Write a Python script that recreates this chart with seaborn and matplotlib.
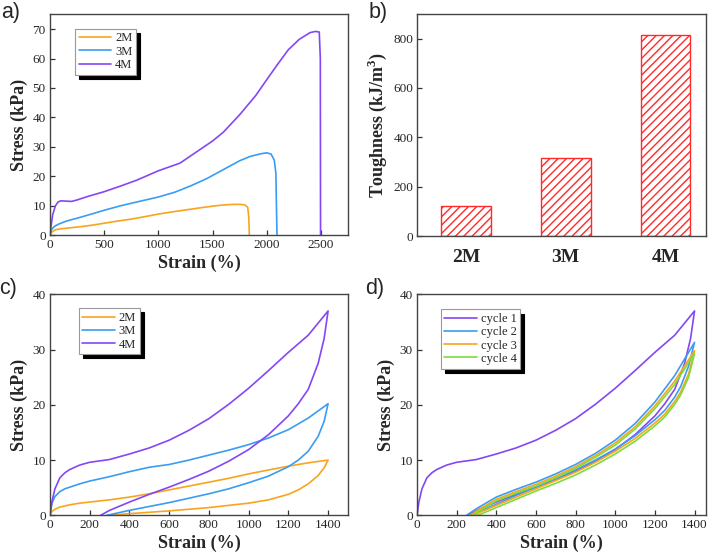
import numpy as np
import pandas as pd
import seaborn as sns
import matplotlib.pyplot as plt

# ---- a) tensile curves
a_2m_strain = [0, 20, 50, 100, 200, 300, 400, 500, 600, 750, 900, 1000, 1100, 1250, 1400, 1500, 1600, 1700, 1760, 1800, 1825, 1835, 1840]
a_2m_stress = [0, 1.2, 1.9, 2.2, 2.6, 3.0, 3.5, 4.1, 4.7, 5.5, 6.5, 7.2, 7.8, 8.6, 9.4, 9.9, 10.3, 10.5, 10.5, 10.3, 9.5, 6.0, 0]
a_3m_strain = [0, 15, 40, 80, 150, 250, 400, 500, 650, 800, 1000, 1150, 1300, 1450, 1600, 1750, 1850, 1950, 2000, 2040, 2070, 2085, 2090, 2095]
a_3m_stress = [0, 2.0, 3.0, 3.8, 4.8, 5.8, 7.4, 8.5, 10.0, 11.3, 13.0, 14.6, 16.8, 19.3, 22.3, 25.3, 26.8, 27.7, 28.0, 27.6, 25.5, 21.0, 10.0, 0]
a_4m_strain = [0, 10, 25, 50, 75, 100, 150, 200, 250, 350, 500, 650, 800, 1000, 1100, 1200, 1300, 1400, 1500, 1600, 1750, 1900, 2000, 2100, 2200, 2300, 2400, 2450, 2485, 2495, 2497]
a_4m_stress = [0, 3.0, 7.0, 10.0, 11.3, 11.7, 11.6, 11.5, 12.0, 13.2, 14.8, 16.7, 18.7, 21.9, 23.2, 24.5, 27.0, 29.5, 32.0, 35.0, 40.9, 47.5, 52.8, 58.0, 63.0, 66.5, 68.8, 69.2, 69.0, 60.0, 0]

# ---- b) toughness
samples = ["2M", "3M", "4M"]
toughness = [120, 315, 815]

# ---- c) loading / unloading cycles
c_4m_load_x = [0, 10, 25, 50, 75, 100, 150, 200, 300, 400, 500, 600, 700, 800, 900, 1000, 1100, 1200, 1300, 1400]
c_4m_load_y = [0, 2.5, 4.8, 6.8, 7.7, 8.3, 9.1, 9.6, 10.1, 11.1, 12.2, 13.6, 15.4, 17.5, 20.1, 23.0, 26.2, 29.5, 32.6, 37.0]
c_4m_unload_x = [1400, 1380, 1350, 1300, 1250, 1200, 1100, 1000, 900, 800, 700, 600, 500, 400, 300, 255]
c_4m_unload_y = [37.0, 32.0, 27.5, 22.8, 20.2, 18.0, 14.6, 11.9, 9.8, 8.0, 6.5, 5.1, 3.8, 2.4, 0.9, 0]
c_3m_load_x = [0, 10, 25, 50, 75, 100, 150, 200, 300, 400, 500, 600, 700, 800, 900, 1000, 1100, 1200, 1300, 1400]
c_3m_load_y = [0, 2.2, 3.4, 4.3, 4.8, 5.1, 5.7, 6.2, 7.0, 7.9, 8.7, 9.2, 10.0, 10.9, 11.8, 12.8, 14.0, 15.5, 17.6, 20.2]
c_3m_unload_x = [1400, 1380, 1350, 1300, 1250, 1200, 1100, 1000, 900, 800, 700, 600, 500, 400, 350, 300, 285]
c_3m_unload_y = [20.2, 17.0, 14.3, 11.6, 10.0, 8.8, 7.1, 5.9, 4.8, 3.9, 3.1, 2.3, 1.6, 0.9, 0.5, 0.1, 0]
c_2m_load_x = [0, 10, 25, 50, 100, 150, 200, 300, 400, 500, 600, 700, 800, 900, 1000, 1100, 1200, 1300, 1400]
c_2m_load_y = [0, 0.7, 1.1, 1.5, 1.9, 2.2, 2.4, 2.8, 3.3, 3.9, 4.6, 5.3, 6.0, 6.7, 7.5, 8.2, 8.9, 9.5, 10.0]
c_2m_unload_x = [1400, 1380, 1350, 1300, 1250, 1200, 1100, 1000, 900, 800, 700, 600, 500, 400, 300]
c_2m_unload_y = [10.0, 8.6, 7.2, 5.7, 4.6, 3.8, 2.8, 2.2, 1.8, 1.4, 1.1, 0.8, 0.55, 0.3, 0.0]

# ---- d) successive cycles (cycle 1 = 4M curve of panel c)
d_c2_load_x = [250, 300, 400, 500, 600, 700, 800, 900, 1000, 1100, 1200, 1300, 1400]
d_c2_load_y = [0, 1.2, 3.3, 4.7, 6.0, 7.5, 9.2, 11.2, 13.6, 16.6, 20.5, 25.3, 31.3]
d_c2_unload_x = [1400, 1370, 1330, 1300, 1250, 1200, 1100, 1000, 900, 800, 700, 600, 500, 400, 300, 265]
d_c2_unload_y = [31.3, 27.0, 23.3, 21.4, 19.0, 17.3, 14.4, 12.0, 10.0, 8.2, 6.6, 5.1, 3.6, 2.0, 0.5, 0]
d_c3_load_x = [270, 300, 400, 500, 600, 700, 800, 900, 1000, 1100, 1200, 1300, 1400]
d_c3_load_y = [0, 0.8, 2.9, 4.3, 5.6, 7.1, 8.8, 10.8, 13.1, 16.0, 19.8, 24.3, 29.8]
d_c3_unload_x = [1400, 1370, 1330, 1300, 1250, 1200, 1100, 1000, 900, 800, 700, 600, 500, 400, 300, 280]
d_c3_unload_y = [29.8, 25.6, 22.3, 20.6, 18.3, 16.7, 13.9, 11.6, 9.6, 7.8, 6.3, 4.8, 3.3, 1.8, 0.3, 0]
d_c4_load_x = [285, 300, 400, 500, 600, 700, 800, 900, 1000, 1100, 1200, 1300, 1400]
d_c4_load_y = [0, 0.5, 2.6, 4.0, 5.3, 6.8, 8.5, 10.5, 12.7, 15.6, 19.3, 23.7, 29.3]
d_c4_unload_x = [1400, 1370, 1330, 1300, 1250, 1200, 1100, 1000, 900, 800, 700, 600, 500, 400, 320, 300]
d_c4_unload_y = [29.3, 25.0, 21.8, 20.1, 17.8, 16.2, 13.4, 11.1, 9.1, 7.3, 5.8, 4.4, 2.9, 1.4, 0.2, 0]

colors = {"2M": "#F9A41E", "3M": "#3A9CF2", "4M": "#8447F5"}
cycle_colors = {"cycle 1": "#8447F5", "cycle 2": "#3A9CF2", "cycle 3": "#F9A41E", "cycle 4": "#7EDC3A"}
bar_red = "#FF2A2A"

sns.set_theme(style="ticks")
plt.rcParams["font.family"] = ["Liberation Serif", "DejaVu Serif"]
plt.rcParams["mathtext.fontset"] = "custom"
plt.rcParams["mathtext.rm"] = "Liberation Serif"
plt.rcParams["mathtext.bf"] = "Liberation Serif:bold"
plt.rcParams["axes.edgecolor"] = "#444444"
plt.rcParams["axes.linewidth"] = 1.0


def curves_frame(parts):
    rows = []
    for name, xs, ys in parts:
        rows.append(pd.DataFrame({"strain": xs, "stress": ys, "sample": name}))
    return pd.concat(rows, ignore_index=True)


def style_axes(ax):
    ax.tick_params(axis="both", direction="in", length=3.5, width=0.9, color="#333333",
                   labelsize=9.5, pad=3, top=False, right=False)
    for s in ax.spines.values():
        s.set_visible(True)
        s.set_color("#444444")


def add_legend(ax, labels, pal, anchor):
    handles = ax.get_lines()[:len(labels)]
    leg = ax.legend(handles, labels, loc="upper left", bbox_to_anchor=anchor, borderaxespad=0,
                    frameon=True, fancybox=False, fontsize=9, handlelength=2.6,
                    handletextpad=0.3, labelspacing=0.1, borderpad=0.3,
                    shadow={"color": "black", "alpha": 1, "ox": 3, "oy": -3})
    leg.get_frame().set_edgecolor("#999999")
    leg.get_frame().set_linewidth(0.8)
    return leg


fig = plt.figure(figsize=(7.17, 5.58), dpi=100)
ax_a = fig.add_axes([0.0697, 0.5783, 0.4156, 0.396])
ax_b = fig.add_axes([0.582, 0.577, 0.4031, 0.398])
ax_c = fig.add_axes([0.0697, 0.0765, 0.4156, 0.396])
ax_d = fig.add_axes([0.5816, 0.0765, 0.4031, 0.396])

# a)
df_a = curves_frame([("2M", a_2m_strain, a_2m_stress),
                     ("3M", a_3m_strain, a_3m_stress),
                     ("4M", a_4m_strain, a_4m_stress)])
sns.lineplot(data=df_a, x="strain", y="stress", hue="sample", palette=colors,
             sort=False, estimator=None, legend=False, linewidth=1.2, ax=ax_a)
ax_a.set_xlim(0, 2750)
ax_a.set_ylim(0, 75)
ax_a.set_xticks([0, 500, 1000, 1500, 2000, 2500])
ax_a.set_yticks(range(0, 71, 10))
style_axes(ax_a)
add_legend(ax_a, ["2M", "3M", "4M"], colors, (0.084, 0.935))

# b)
sns.barplot(x=samples, y=toughness, color="white", edgecolor=bar_red, hatch="////",
            linewidth=1.0, width=0.5, ax=ax_b)
for p in ax_b.patches:
    p.set_facecolor("white")
ax_b.set_xlim(-0.49, 2.41)
ax_b.set_ylim(0, 900)
ax_b.set_yticks(range(0, 801, 200))
style_axes(ax_b)
ax_b.tick_params(axis="x", length=0, labelsize=14, pad=9)
for t in ax_b.get_xticklabels():
    t.set_fontweight("bold")

# c)
df_c = curves_frame([("2M", c_2m_load_x + c_2m_unload_x, c_2m_load_y + c_2m_unload_y),
                     ("3M", c_3m_load_x + c_3m_unload_x, c_3m_load_y + c_3m_unload_y),
                     ("4M", c_4m_load_x + c_4m_unload_x, c_4m_load_y + c_4m_unload_y)])
sns.lineplot(data=df_c, x="strain", y="stress", hue="sample", palette=colors,
             sort=False, estimator=None, legend=False, linewidth=1.2, ax=ax_c)
ax_c.set_xlim(0, 1500)
ax_c.set_ylim(0, 40)
ax_c.set_xticks(range(0, 1401, 200))
ax_c.set_yticks(range(0, 41, 10))
style_axes(ax_c)
add_legend(ax_c, ["2M", "3M", "4M"], colors, (0.096, 0.937))

# d)
df_d = curves_frame([("cycle 1", c_4m_load_x + c_4m_unload_x, c_4m_load_y + c_4m_unload_y),
                     ("cycle 2", d_c2_load_x + d_c2_unload_x, d_c2_load_y + d_c2_unload_y),
                     ("cycle 3", d_c3_load_x + d_c3_unload_x, d_c3_load_y + d_c3_unload_y),
                     ("cycle 4", d_c4_load_x + d_c4_unload_x, d_c4_load_y + d_c4_unload_y)])
sns.lineplot(data=df_d, x="strain", y="stress", hue="sample", palette=cycle_colors,
             sort=False, estimator=None, legend=False, linewidth=1.2, ax=ax_d)
ax_d.set_xlim(0, 1458)
ax_d.set_ylim(0, 40)
ax_d.set_xticks(range(0, 1401, 200))
ax_d.set_yticks(range(0, 41, 10))
style_axes(ax_d)
add_legend(ax_d, ["cycle 1", "cycle 2", "cycle 3", "cycle 4"], cycle_colors, (0.082, 0.932))

# axis labels
lab = dict(fontsize=13, fontweight="bold")
for ax in (ax_a, ax_c, ax_d):
    ax.set_xlabel("Strain (%)", labelpad=2, **lab)
    ax.set_ylabel("Stress (kPa)", labelpad=3, **lab)
ax_b.set_xlabel("")
ax_b.set_ylabel(r"Toughness (kJ/m$^\mathbf{3}$)", labelpad=3, **lab)

# panel letters
W, H = 717, 558
for txt, px, py in [("a)", 1, 18), ("b)", 369, 18), ("c)", -1, 294), ("d)", 365, 294)]:
    fig.text(px / W, 1 - py / H, txt, fontsize=15.5, family=["Liberation Sans", "DejaVu Sans"],
             ha="left", va="baseline")

plt.savefig("out.png", dpi=100)
